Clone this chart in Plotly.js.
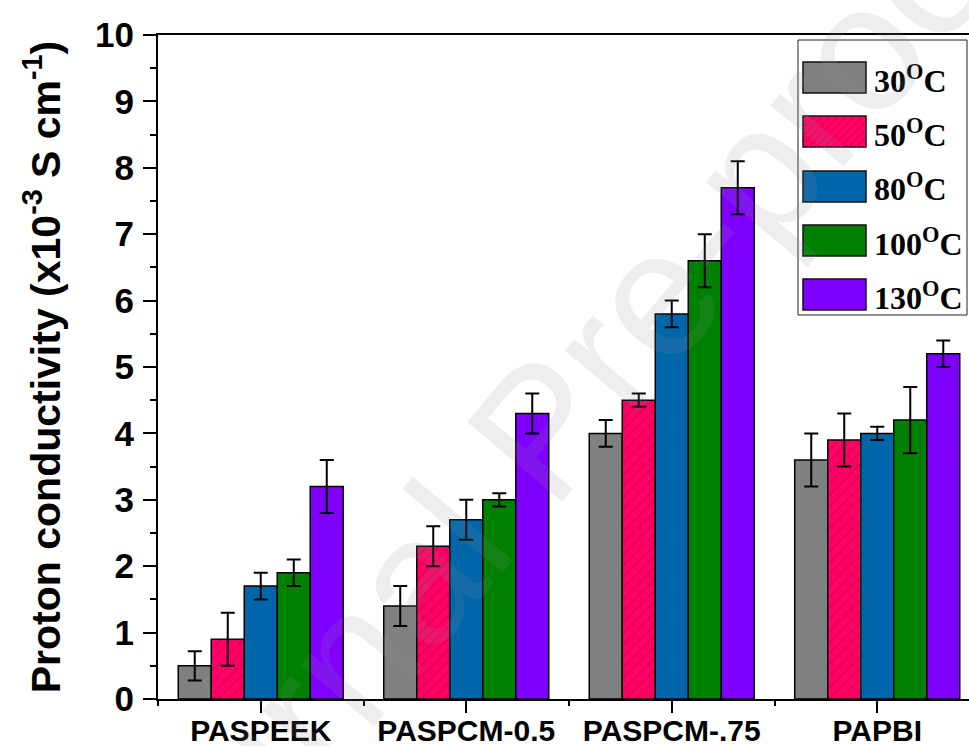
<!DOCTYPE html>
<html>
<head>
<meta charset="utf-8">
<script src="https://cdn.plot.ly/plotly-3.0.1.min.js"></script>
<style>html,body{margin:0;padding:0;background:#fff;}#chart{width:969px;height:746px;}</style>
</head>
<body>
<div id="chart"></div>
<script>
// ---- data ----
const categories = ['PASPEEK', 'PASPCM-0.5', 'PASPCM-.75', 'PAPBI'];
const seriesNames = ['30<sup>O</sup>C', '50<sup>O</sup>C', '80<sup>O</sup>C', '100<sup>O</sup>C', '130<sup>O</sup>C'];
const v30  = [0.5, 1.4, 4.0, 3.6];
const e30  = [0.22, 0.3, 0.2, 0.4];
const v50  = [0.9, 2.3, 4.5, 3.9];
const e50  = [0.4, 0.3, 0.1, 0.4];
const v80  = [1.7, 2.7, 5.8, 4.0];
const e80  = [0.2, 0.3, 0.2, 0.1];
const v100 = [1.9, 3.0, 6.6, 4.2];
const e100 = [0.2, 0.1, 0.4, 0.5];
const v130 = [3.2, 4.3, 7.7, 5.2];
const e130 = [0.4, 0.3, 0.4, 0.2];
const yTitle = 'Proton conductivity (x10<sup>-3</sup> S cm<sup>-1</sup>)';
const watermark = 'Journal Pre-proof';

// ---- styles ----
const colors = ['#808080', '#ff0066', '#0066aa', '#008000', '#8000ff'];
const values = [v30, v50, v80, v100, v130];
const errors = [e30, e50, e80, e100, e130];
const xpos = categories.map((c, i) => i);

const W = 969, H = 746;
const M = {l: 158, r: 0, t: 35, b: 47};
const PW = W - M.l - M.r, PH = H - M.t - M.b;
const px = x => (x - M.l) / PW;
const py = y => (H - M.b - y) / PH;

const traces = values.map((v, k) => {
  const marker = {color: colors[k], line: {color: '#000', width: 1.5}};
  if (k === 1) {
    marker.pattern = {shape: '/', fgcolor: '#d0004f', bgcolor: colors[k], size: 8, solidity: 0.12, fillmode: 'replace'};
  }
  return {
    type: 'bar', x: xpos, y: v, name: seriesNames[k],
    marker: marker,
    error_y: {type: 'data', array: errors[k], visible: true, color: '#000', thickness: 2, width: 7},
    showlegend: false, hoverinfo: 'skip'
  };
});

// ---- custom legend ----
const shapes = [];
const annotations = [];
const lgBox = {x0: 798, x1: 967, y0: 40, y1: 315};
shapes.push({type: 'rect', xref: 'paper', yref: 'paper', layer: 'above',
  x0: px(lgBox.x0), x1: px(lgBox.x1), y0: py(lgBox.y1), y1: py(lgBox.y0),
  line: {color: '#222', width: 1}, fillcolor: '#fff'});
const swTops = [62, 116, 171, 225, 279];
const swH = 31, swX0 = 803, swX1 = 866;
swTops.forEach((t, k) => {
  shapes.push({type: 'rect', xref: 'paper', yref: 'paper', layer: 'above',
    x0: px(swX0), x1: px(swX1), y0: py(t + swH), y1: py(t),
    line: {color: '#111', width: 1.5}, fillcolor: colors[k]});
  if (k === 1) {
    let d = '';
    const x0 = swX0, x1 = swX1, y0 = t, y1 = t + swH;
    for (let c = x0 + y0 + 4; c < x1 + y1; c += 8) {
      const sx = Math.max(x0, c - y1), ex = Math.min(x1, c - y0);
      if (ex > sx) d += `M${px(sx)},${py(c - sx)}L${px(ex)},${py(c - ex)}`;
    }
    shapes.push({type: 'path', xref: 'paper', yref: 'paper', layer: 'above', path: d,
      line: {color: '#d0004f', width: 1}});
  }
  annotations.push({xref: 'paper', yref: 'paper', x: px(872), y: py(t + swH / 2 + 1),
    xanchor: 'left', yanchor: 'middle', showarrow: false, text: seriesNames[k],
    font: {family: 'Liberation Serif, Times New Roman, serif', size: 32, color: '#000', weight: 'bold'}});
});

// watermark
annotations.push({xref: 'paper', yref: 'paper', x: px(540), y: py(430), xanchor: 'center', yanchor: 'middle',
  showarrow: false, text: watermark, textangle: -50,
  font: {family: 'Liberation Sans, Arial, sans-serif', size: 180, color: 'rgba(140,140,140,0.15)'}});

const xTickFont = {family: 'Liberation Sans, Arial, sans-serif', size: 30, color: '#000', weight: 'bold'};
const yTickFont = {family: 'Liberation Sans, Arial, sans-serif', size: 35, color: '#000', weight: 'bold'};

const layout = {
  width: W, height: H, margin: M,
  paper_bgcolor: '#fff', plot_bgcolor: '#fff',
  barmode: 'group', bargap: 0.197, bargroupgap: 0,
  xaxis: {
    range: [-0.5, (W - M.l) / 205.5 - 0.5],
    tickmode: 'array', tickvals: xpos, ticktext: categories,
    ticks: 'outside', ticklen: 12, tickwidth: 2, tickcolor: '#000',
    showline: true, linewidth: 2, linecolor: '#000', mirror: true,
    showgrid: false, zeroline: false, tickfont: xTickFont, ticklabelstandoff: -8,
    minor: {tickmode: 'array', tickvals: [-0.5, 0.5, 1.5, 2.5], ticks: 'outside', ticklen: 5, tickwidth: 2, tickcolor: '#000'}
  },
  yaxis: {
    range: [0, 10], tickmode: 'linear', tick0: 0, dtick: 1,
    ticks: 'outside', ticklen: 13, tickwidth: 2, tickcolor: '#000',
    showline: true, linewidth: 2, linecolor: '#000', mirror: false,
    showgrid: false, zeroline: false, tickfont: yTickFont, ticklabelstandoff: 2,
    minor: {dtick: 0.5, tick0: 0, ticks: 'outside', ticklen: 6, tickwidth: 2, tickcolor: '#000'},
    title: {text: yTitle, standoff: 22, font: {family: 'Liberation Sans, Arial, sans-serif', size: 41, color: '#000', weight: 'bold'}}
  },
  shapes: shapes,
  annotations: annotations,
  showlegend: false
};

Plotly.newPlot('chart', traces, layout, {displayModeBar: false, staticPlot: true});
</script>
</body>
</html>
